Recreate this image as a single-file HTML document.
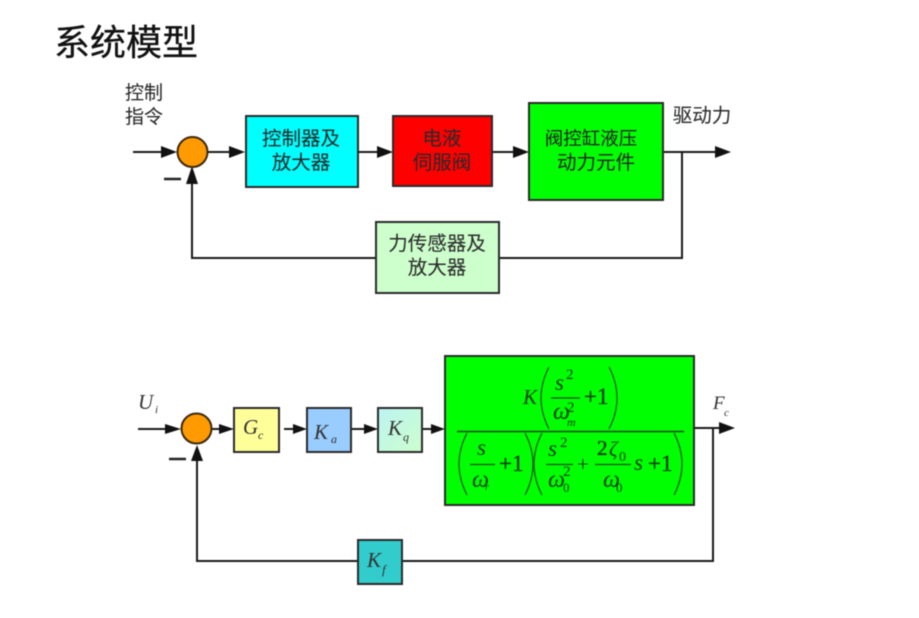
<!DOCTYPE html>
<html lang="zh">
<head>
<meta charset="utf-8">
<style>
html,body{margin:0;padding:0;background:#fff;width:919px;height:618px;overflow:hidden}
svg{display:block;filter:blur(0.45px)}
.cn{font-family:"Liberation Sans","Noto Sans CJK SC",sans-serif;fill:#2a2a2a;font-size:19.5px;text-anchor:middle;stroke:#2a2a2a;stroke-width:0.08px}
.m{font-family:"Liberation Serif",serif;fill:#333;font-style:italic}
.g{font-family:"Liberation Serif",serif;fill:#0b3b0b}
.p{stroke:#0b3b0b;stroke-width:0.35px}
.gi{font-family:"Liberation Serif",serif;fill:#0b3b0b;font-style:italic}
.l{stroke:#1a1a1a;stroke-width:2;fill:none}
.f{stroke:#1f5a1f;stroke-width:1.3;fill:none}
.b{stroke:#2a2a2a;stroke-width:2}
.fl{stroke:#1f4a1f;stroke-width:1.2}
</style>
</head>
<body>
<svg width="919" height="618" viewBox="0 0 919 618" xmlns="http://www.w3.org/2000/svg">
<defs>
<linearGradient id="kq" x1="0" y1="0" x2="1" y2="1"><stop offset="0" stop-color="#bdf3f3"/><stop offset="1" stop-color="#ccffcc"/></linearGradient>
</defs>
<text x="54" y="55" style="font-family:'Liberation Sans','Noto Sans CJK SC',sans-serif;font-size:36px;fill:#111;stroke:#111;stroke-width:0.3px">系统模型</text>

<!-- top lines -->
<path class="l" d="M133 152H165M207 152H232M358 152H379M492 152H515M663 152H716M682 152V258H499M376 258H192V180"/>
<path d="M161 146L177 152L161 158ZM229 146L245 152L229 158ZM377 146L393 152L377 158ZM513 146L529 152L513 158ZM715 146L731 152L715 158ZM192 166L198 184L186 184Z" fill="#111"/>
<path d="M164 179H181" stroke="#222" stroke-width="2.5"/>
<circle cx="192.500" cy="152" r="15" fill="#ff9a00" stroke="#3a2a10" stroke-width="2"/>
<rect class="b" x="246" y="116" width="112" height="71" fill="#00ffff"/>
<rect class="b" x="393" y="116" width="99" height="70" fill="#ff0000"/>
<rect class="b" x="529" y="103" width="134" height="97" fill="#00ff00"/>
<rect class="b" x="376" y="222" width="123" height="71" fill="#ccffcc"/>
<text class="cn" x="144" y="99" style="font-size:19px">控制</text>
<text class="cn" x="144" y="123" style="font-size:19px">指令</text>
<text class="cn" x="702" y="122">驱动力</text>
<text class="cn" x="301" y="145">控制器及</text>
<text class="cn" x="301" y="169">放大器</text>
<text class="cn" x="442" y="145">电液</text>
<text class="cn" x="442" y="169">伺服阀</text>
<text class="cn" x="591" y="145" style="font-size:18.5px">阀控缸液压</text>
<text class="cn" x="596" y="169">动力元件</text>
<text class="cn" x="437" y="250">力传感器及</text>
<text class="cn" x="437" y="274">放大器</text>

<!-- bottom lines -->
<path class="l" d="M138 429H170M211 429H224M284 429H297M351 429H368M422 429H435M694 428H722M713 428V561H402M358 561H197V460"/>
<path d="M165 424L181 429L165 434ZM219 424L234 429L219 434ZM293 424L307 429L293 434ZM364 424L378 429L364 434ZM431 424L445 429L431 434ZM719 422L735 428L719 434ZM197 445L203 461L191 461Z" fill="#111"/>
<path d="M169 459H186" stroke="#222" stroke-width="2.5"/>
<circle cx="196.500" cy="428.500" r="15" fill="#ff9a00" stroke="#3a2a10" stroke-width="2"/>
<rect class="b" x="234" y="408" width="45" height="44" fill="#ffff99"/>
<rect class="b" x="307" y="408" width="44" height="44" fill="#99ccff"/>
<rect class="b" x="378" y="408" width="44" height="44" fill="url(#kq)"/>
<rect class="b" x="445" y="356" width="249" height="149" fill="#00ff00"/>
<rect class="b" x="358" y="540" width="44" height="44" fill="#33cccc"/>

<text class="m" x="138" y="409" font-size="21">U</text><text class="m" x="155" y="413" font-size="11">i</text>
<text class="m" x="243" y="434" font-size="21">G</text><text class="m" x="258" y="439" font-size="12">c</text>
<text class="m" x="314" y="439" font-size="21">K</text><text class="m" x="331" y="443" font-size="12">a</text>
<text class="m" x="388" y="435" font-size="21">K</text><text class="m" x="403" y="441" font-size="12">q</text>
<text class="m" x="367" y="567" font-size="21">K</text><text class="m" x="382" y="574" font-size="13">f</text>
<text class="m" x="713" y="409" font-size="19">F</text><text class="m" x="724" y="416" font-size="11">c</text>

<!-- formula -->
<path d="M457 431.500H684" stroke="#1f4a1f" stroke-width="1.500"/>
<text class="gi" x="523" y="404" font-size="21">K</text>
<path class="f" d="M549 367Q533 398 549 429M609 367Q625 398 609 429"/>
<text class="gi" x="555" y="390" font-size="23">s</text><text class="g" x="566" y="379" font-size="15">2</text>
<path class="fl" d="M551 398H580"/>
<text class="gi" x="553" y="419" font-size="24">ω</text><text class="g" x="567" y="412" font-size="15">2</text><text class="gi" x="567" y="426" font-size="12">m</text>
<text class="g p" x="584" y="404" font-size="23">+1</text>

<path class="f" d="M467 433Q451 464 467 495M525 433Q541 464 525 495M542 433Q526 464 542 495M674 433Q690 464 674 495"/>
<text class="gi" x="477" y="455" font-size="23">s</text>
<path class="fl" d="M470 464.500H495"/>
<text class="gi" x="472" y="487" font-size="24">ω</text><text class="gi" x="485" y="490" font-size="10">r</text>
<text class="g p" x="499" y="471" font-size="23">+1</text>

<text class="gi" x="548" y="456" font-size="23">s</text><text class="g" x="560" y="447" font-size="15">2</text>
<path class="fl" d="M546 464.500H573"/>
<text class="gi" x="548" y="487" font-size="24">ω</text><text class="g" x="563" y="476" font-size="15">2</text><text class="g" x="563" y="492" font-size="13">0</text>
<text class="g" x="577" y="471" font-size="21">+</text>
<text class="g p" x="597" y="455" font-size="21">2</text><text class="gi" x="609" y="456" font-size="21">ζ</text><text class="g" x="619" y="461" font-size="14">0</text>
<path class="fl" d="M595 464.500H631"/>
<text class="gi" x="603" y="487" font-size="24">ω</text><text class="g" x="616" y="492" font-size="13">0</text>
<text class="gi" x="634" y="470" font-size="23">s</text>
<text class="g p" x="648" y="471" font-size="23">+1</text>
</svg>
</body>
</html>
